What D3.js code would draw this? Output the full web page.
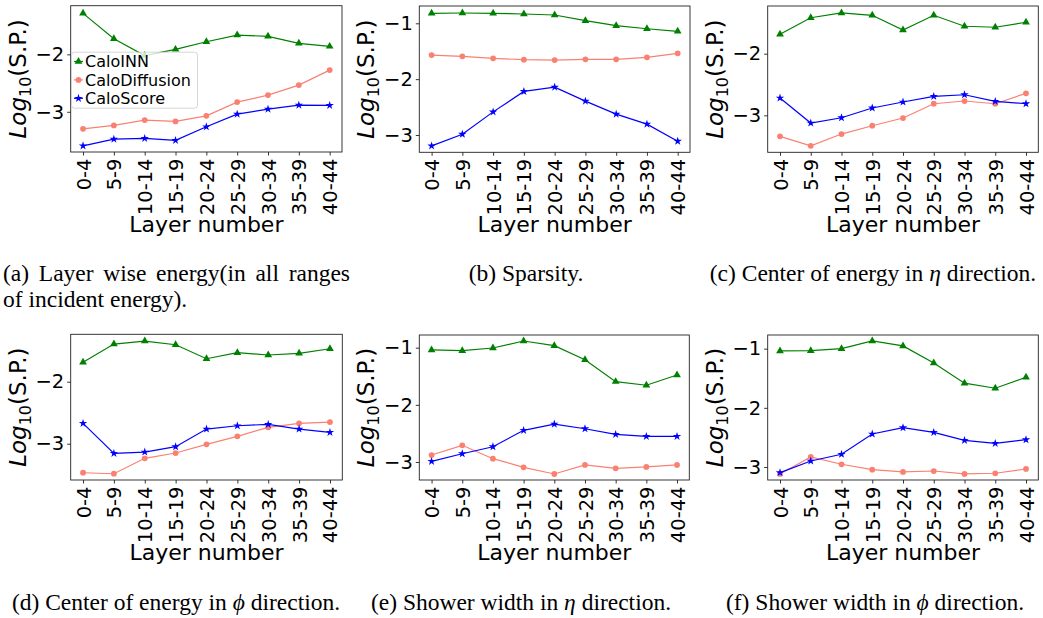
<!DOCTYPE html>
<html><head><meta charset="utf-8">
<script src="https://cdn.jsdelivr.net/npm/d3@7"></script>
<style>body{margin:0;background:#fff}svg{display:block}</style>
</head><body>
<svg id="c" width="1043" height="618"></svg>
<script>
const categories = ["0-4","5-9","10-14","15-19","20-24","25-29","30-34","35-39","40-44"];
const seriesNames = ["CaloINN","CaloDiffusion","CaloScore"];

// (a) Layer wise energy
const aINN   = [-1.286,-1.728,-2.02,-1.913,-1.78,-1.664,-1.686,-1.808,-1.861];
const aDiff  = [-3.296,-3.237,-3.145,-3.167,-3.07,-2.831,-2.709,-2.535,-2.274];
const aScore = [-3.592,-3.476,-3.463,-3.498,-3.261,-3.04,-2.953,-2.883,-2.889];
// (b) Sparsity
const bINN   = [-0.821,-0.815,-0.821,-0.833,-0.851,-0.953,-1.043,-1.097,-1.143];
const bDiff  = [-1.568,-1.591,-1.627,-1.652,-1.658,-1.645,-1.645,-1.609,-1.538];
const bScore = [-3.195,-2.986,-2.586,-2.22,-2.143,-2.394,-2.627,-2.806,-3.111];
// (c) Center of energy eta
const cINN   = [-1.685,-1.416,-1.339,-1.377,-1.615,-1.377,-1.555,-1.571,-1.49];
const cDiff  = [-3.341,-3.494,-3.304,-3.169,-3.044,-2.812,-2.768,-2.812,-2.643];
const cScore = [-2.719,-3.125,-3.039,-2.881,-2.784,-2.692,-2.666,-2.773,-2.812];
// (d) Center of energy phi
const dINN   = [-1.687,-1.392,-1.344,-1.403,-1.629,-1.532,-1.569,-1.542,-1.468];
const dDiff  = [-3.468,-3.484,-3.235,-3.15,-3.01,-2.881,-2.735,-2.671,-2.65];
const dScore = [-2.671,-3.155,-3.134,-3.048,-2.763,-2.71,-2.687,-2.763,-2.816];
// (e) Shower width eta
const eINN   = [-1.04,-1.052,-1.005,-0.883,-0.965,-1.21,-1.594,-1.657,-1.477];
const eDiff  = [-2.878,-2.708,-2.942,-3.093,-3.21,-3.052,-3.11,-3.087,-3.052];
const eScore = [-2.988,-2.855,-2.733,-2.446,-2.336,-2.418,-2.516,-2.551,-2.551];
// (f) Shower width phi
const fINN   = [-1.039,-1.034,-1.0,-0.87,-0.954,-1.242,-1.584,-1.669,-1.483];
const fDiff  = [-3.118,-2.831,-2.954,-3.046,-3.084,-3.068,-3.118,-3.106,-3.034];
const fScore = [-3.096,-2.899,-2.785,-2.443,-2.336,-2.414,-2.549,-2.6,-2.539];

const yDomains = [[-3.70,-1.153],[-3.31,-0.69],[-3.60,-1.226],[-3.585,-1.235],[-3.315,-0.778],[-3.22,-0.769]];
const yTicks = [[-3,-2],[-3,-2,-1],[-3,-2],[-3,-2],[-3,-2,-1],[-3,-2,-1]];

const panels = [
  {data:[aINN,aDiff,aScore], box:[70.7,342,5.7,152], legend:true},
  {data:[bINN,bDiff,bScore], box:[419.3,690,6,152.3]},
  {data:[cINN,cDiff,cScore], box:[767.7,1038.3,6,152.3]},
  {data:[dINN,dDiff,dScore], box:[70.7,342.3,334.3,480]},
  {data:[eINN,eDiff,eScore], box:[419.3,689.3,335,480]},
  {data:[fINN,fDiff,fScore], box:[767.7,1038.3,335,480]}
];
const colors = ["#008000","#fa8072","#0000ff"];
const symbols = [d3.symbolTriangle, d3.symbolCircle, d3.symbolStar];
const symSizes = [26, 26, 22];
const sans = "DejaVu Sans";

const svg = d3.select("#c");

panels.forEach((p,i)=>{
  const [x0,x1,y0,y1] = p.box;
  const x = d3.scalePoint().domain(categories).range([x0,x1]).padding(0.4);
  const y = d3.scaleLinear().domain(yDomains[i]).range([y1,y0]);
  const g = svg.append("g");

  const xa = g.append("g").attr("transform",`translate(0,${y1})`)
    .call(d3.axisBottom(x).tickSize(3.5).tickPadding(3));
  xa.select(".domain").remove();
  xa.selectAll(".tick line").attr("stroke","#000").attr("stroke-width",0.8);
  xa.selectAll(".tick text").attr("font-family",sans).attr("font-size",19.5).attr("fill","#000")
    .attr("transform","rotate(-90)").attr("text-anchor","end")
    .attr("x",-6.5).attr("y",0).attr("dy","0.36em");

  const ya = g.append("g").attr("transform",`translate(${x0},0)`)
    .call(d3.axisLeft(y).tickValues(yTicks[i]).tickSize(3.5).tickPadding(3)
      .tickFormat(d=>d3.format("d")(d).replace("-","\u2212")));
  ya.select(".domain").remove();
  ya.selectAll(".tick line").attr("stroke","#000").attr("stroke-width",0.8);
  ya.selectAll(".tick text").attr("font-family",sans).attr("font-size",19.5).attr("fill","#000");

  p.data.forEach((vals,k)=>{
    const pts = vals.map((v,j)=>[x(categories[j]), y(v)]);
    g.append("path").attr("d",d3.line()(pts)).attr("fill","none")
      .attr("stroke",colors[k]).attr("stroke-width",1.2);
    g.selectAll(null).data(pts).enter().append("path")
      .attr("transform",d=>`translate(${d[0]},${d[1]})`)
      .attr("d",d3.symbol().type(symbols[k]).size(symSizes[k])())
      .attr("fill",colors[k]);
  });

  g.append("rect").attr("x",x0).attr("y",y0).attr("width",x1-x0).attr("height",y1-y0)
    .attr("fill","none").attr("stroke","#222").attr("stroke-width",0.9);

  g.append("text").attr("x",(x0+x1)/2).attr("y",y1+80).attr("text-anchor","middle")
    .attr("font-family",sans).attr("font-size",22).attr("fill","#000").text("Layer number");
  const yl = g.append("text").attr("transform",`translate(${x0-45},${(y0+y1)/2}) rotate(-90)`)
    .attr("text-anchor","middle").attr("font-family",sans).attr("font-size",23).attr("fill","#000");
  yl.append("tspan").attr("font-style","italic").text("Log");
  yl.append("tspan").attr("font-size",16).attr("dy",5).text("10");
  yl.append("tspan").attr("dy",-5).text("(S.P.)");

  if(p.legend){
    const lg = g.append("g").attr("transform",`translate(${x0+0.8},${y0+46.5})`);
    lg.append("rect").attr("width",126).attr("height",56).attr("rx",3)
      .attr("fill","#fff").attr("fill-opacity",0.8).attr("stroke","#ccc").attr("stroke-width",0.8);
    seriesNames.forEach((s,k)=>{
      const cy = 9.3 + k*18.4;
      lg.append("line").attr("x1",2.5).attr("x2",11.5).attr("y1",cy).attr("y2",cy)
        .attr("stroke",colors[k]).attr("stroke-width",1.2);
      lg.append("path").attr("transform",`translate(7,${cy})`)
        .attr("d",d3.symbol().type(symbols[k]).size(symSizes[k])()).attr("fill",colors[k]);
      lg.append("text").attr("x",13.5).attr("y",cy).attr("dy","0.36em")
        .attr("font-family",sans).attr("font-size",16).attr("fill","#000").text(s);
    });
  }
});

const serif = "Liberation Serif";
const capSize = 23.5;
function caption(parts, cx, by){
  const t = svg.append("text").attr("x",cx).attr("y",by).attr("text-anchor","middle")
    .attr("font-family",serif).attr("font-size",capSize).attr("fill","#000");
  parts.forEach(pt=>{
    const ts = t.append("tspan").text(pt[0]);
    if(pt[1]) ts.attr("font-style","italic");
  });
}
(function(){
  const words = "(a) Layer wise energy(in all ranges".split(" ");
  const left = 3, right = 350, by = 281;
  const tmp = words.map(w=>svg.append("text").attr("font-family",serif).attr("font-size",capSize)
    .attr("fill","#000").attr("y",by).text(w));
  const widths = tmp.map(t=>t.node().getComputedTextLength());
  const gap = (right-left-d3.sum(widths))/(words.length-1);
  let cur = left;
  tmp.forEach((t,j)=>{ t.attr("x",cur); cur += widths[j]+gap; });
  svg.append("text").attr("x",left).attr("y",by+26).attr("font-family",serif).attr("font-size",capSize)
    .attr("fill","#000").text("of incident energy).");
})();
caption([["(b) Sparsity."]], 526, 281);
caption([["(c) Center of energy in "],["\u03B7",true],[" direction."]], 873, 281);
caption([["(d) Center of energy in "],["\u03D5",true],[" direction."]], 176, 610);
caption([["(e) Shower width in "],["\u03B7",true],[" direction."]], 521, 610);
caption([["(f) Shower width in "],["\u03D5",true],[" direction."]], 875, 610);
</script>
</body></html>
